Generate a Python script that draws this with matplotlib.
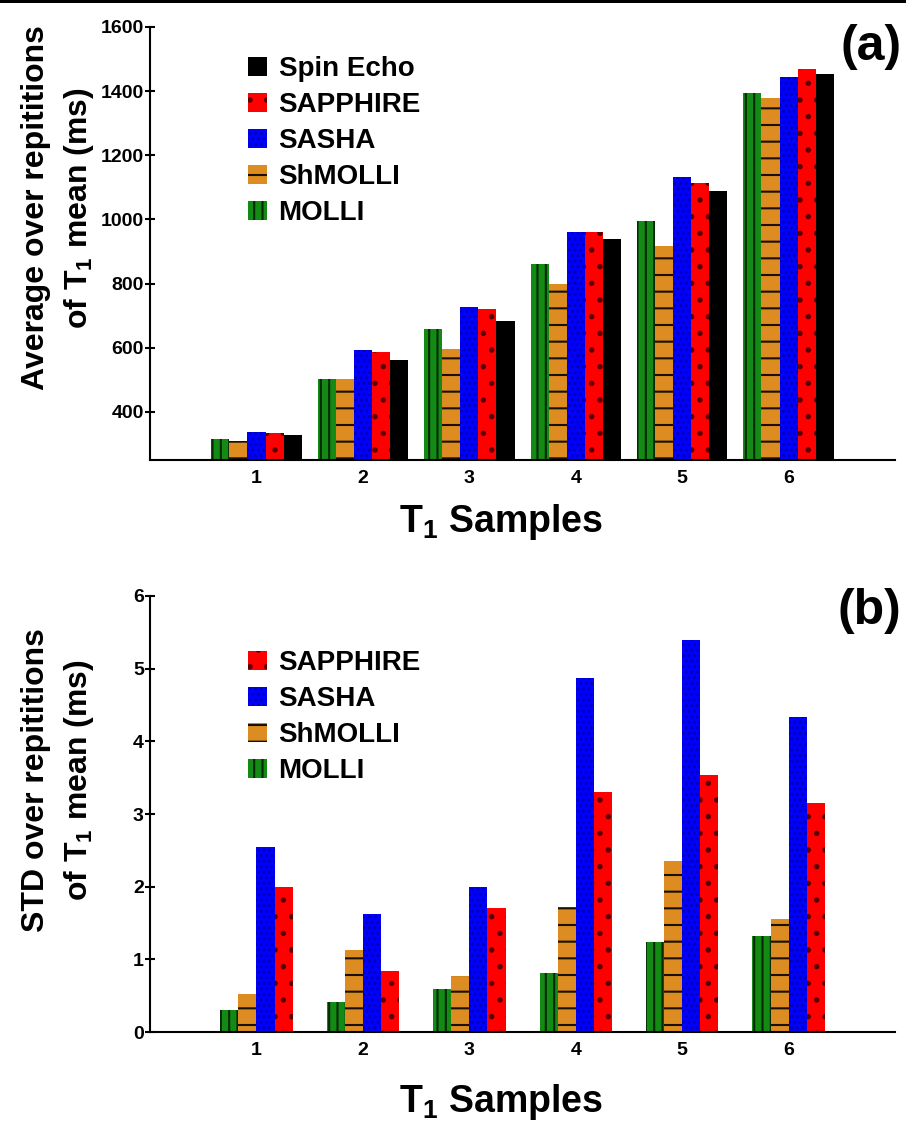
import matplotlib
matplotlib.use('Agg')
import matplotlib.pyplot as plt
from matplotlib.patches import Patch, Rectangle
import numpy as np

# ---------------- data ----------------
samples = [1, 2, 3, 4, 5, 6]
sample_labels = ['1', '2', '3', '4', '5', '6']

# (a) average over repetitions of T1 mean (ms)
molli_mean = [314, 501, 658, 862, 994, 1395]
shmolli_mean = [309, 503, 597, 799, 918, 1377]
sasha_mean = [337, 592, 727, 961, 1132, 1445]
sapphire_mean = [335, 588, 720, 961, 1114, 1469]
spinecho_mean = [329, 561, 682, 938, 1088, 1453]

# (b) STD over repetitions of T1 mean (ms)
molli_std = [0.30, 0.41, 0.59, 0.81, 1.24, 1.32]
shmolli_std = [0.53, 1.13, 0.77, 1.72, 2.35, 1.55]
sasha_std = [2.54, 1.63, 2.00, 4.87, 5.39, 4.34]
sapphire_std = [1.99, 0.84, 1.70, 3.30, 3.53, 3.15]

yticks_a = [400, 600, 800, 1000, 1200, 1400, 1600]
yticks_b = [0, 1, 2, 3, 4, 5, 6]

# ---------------- styles ----------------
styles = {
    'MOLLI':     dict(color='#138a13', hc='#062806', hatch='||'),
    'ShMOLLI':   dict(color='#dc8c20', hc='#1a1000', hatch='-'),
    'SASHA':     dict(color='#0000ff', hc='#0000b8', hatch='...'),
    'SAPPHIRE':  dict(color='#ff0000', hc='#5a0000', hatch='.'),
    'Spin Echo': dict(color='#000000', hc='#000000', hatch=None),
}

plt.rcParams['font.family'] = 'Liberation Sans'
plt.rcParams['font.weight'] = 'bold'
plt.rcParams['axes.labelweight'] = 'bold'
plt.rcParams['mathtext.fontset'] = 'custom'
plt.rcParams['mathtext.rm'] = 'Liberation Sans:bold'
plt.rcParams['mathtext.it'] = 'Liberation Sans:bold'
plt.rcParams['mathtext.bf'] = 'Liberation Sans:bold'
plt.rcParams['mathtext.default'] = 'rm'
plt.rcParams['hatch.linewidth'] = 1.5

fig = plt.figure(figsize=(9.06, 11.23), dpi=100)
ax1 = fig.add_axes([0.1656, 0.5904, 0.8223, 0.3856])
ax2 = fig.add_axes([0.1656, 0.0810, 0.8223, 0.3883])

width = 0.17
xpos = np.array(samples, dtype=float)


def draw(ax, series, names):
    n = len(series)
    for i, (vals, name) in enumerate(zip(series, names)):
        st = styles[name]
        off = (i - (n - 1) / 2.0) * width
        ax.bar(xpos + off, vals, width, color=st['color'],
               edgecolor=st['hc'], hatch=st['hatch'], linewidth=0,
               label=name, zorder=2)


def legend(ax, names, ytop):
    handles = []
    for name in names:
        st = styles[name]
        handles.append(Patch(facecolor=st['color'], edgecolor=st['hc'],
                             hatch=st['hatch'], linewidth=0, label=name))
    ax.legend(handles=handles, loc='upper left', bbox_to_anchor=(0.1315, ytop),
              frameon=False, fontsize=20, handlelength=0.7, handleheight=0.68,
              handletextpad=0.4, labelspacing=0.36, borderpad=0,
              borderaxespad=0)


names_a = ['MOLLI', 'ShMOLLI', 'SASHA', 'SAPPHIRE', 'Spin Echo']
draw(ax1, [molli_mean, shmolli_mean, sasha_mean, sapphire_mean, spinecho_mean], names_a)
legend(ax1, names_a[::-1], 0.933)

names_b = ['MOLLI', 'ShMOLLI', 'SASHA', 'SAPPHIRE']
draw(ax2, [molli_std, shmolli_std, sasha_std, sapphire_std], names_b)
legend(ax2, names_b[::-1], 0.876)

ax1.set_ylim(250, 1600)
ax1.set_yticks(yticks_a)
ax2.set_ylim(0, 6)
ax2.set_yticks(yticks_b)

for ax in (ax1, ax2):
    ax.set_xlim(0, 7)
    ax.set_xticks(samples)
    ax.set_xticklabels(sample_labels)
    for s in ('top', 'right'):
        ax.spines[s].set_visible(False)
    for s in ('left', 'bottom'):
        ax.spines[s].set_linewidth(1.5)
        ax.spines[s].set_zorder(3)
    ax.tick_params(axis='y', direction='inout', length=7, width=1.5, pad=1,
                   labelsize=14)
    ax.tick_params(axis='x', length=0, pad=7, labelsize=14)
    ax.set_xlabel('T$_1$ Samples', fontsize=27, fontweight='bold')
    ax.xaxis.label.set_va('baseline')

ax1.xaxis.set_label_coords(0.471, -0.166)
ax2.xaxis.set_label_coords(0.471, -0.184)

fig.text(0.0645, 0.815, 'Average over repititions\nof T$_1$ mean (ms)',
         rotation=90, ha='center', va='center', fontsize=23, linespacing=1.42,
         multialignment='center')
fig.text(0.0645, 0.305, 'STD over repititions\nof T$_1$ mean (ms)',
         rotation=90, ha='center', va='center', fontsize=23, linespacing=1.42,
         multialignment='center')

fig.text(0.995, 0.958, '(a)', ha='right', va='center', fontsize=36)
fig.text(0.995, 0.456, '(b)', ha='right', va='center', fontsize=36)

fig.add_artist(Rectangle((0, 1 - 3.0 / 1123), 1, 3.0 / 1123,
                         transform=fig.transFigure, color='black', lw=0))

fig.savefig('out.png', dpi=100)
